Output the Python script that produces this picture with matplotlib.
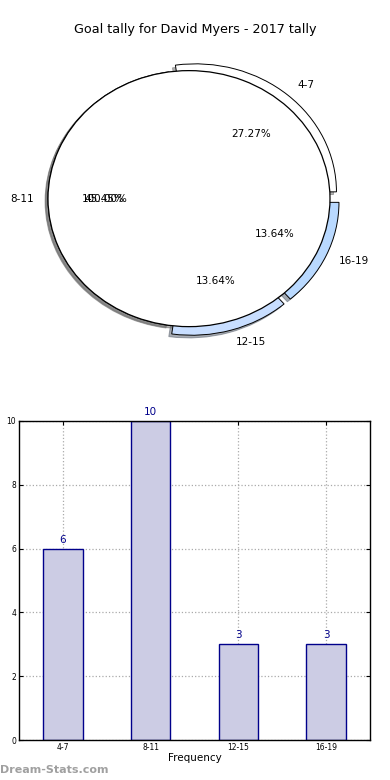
import matplotlib.pyplot as plt
import numpy as np

# ============================================================
# Data
# ============================================================
categories = ['4-7', '8-11', '12-15', '16-19']
goals = [6, 10, 3, 3]

pie_colors = ['white', 'white', '#c8deff', '#b9d9ff']
explode = [0.07, 0.0, 0.07, 0.07]

bar_face = '#ccccE4'
bar_edge = '#00008b'

# ============================================================
# Figure
# ============================================================
fig = plt.figure(figsize=(3.9, 7.8), dpi=100)

fig.text(0.5, 1 - 30 / 780, 'Goal tally for David Myers - 2017 tally',
         ha='center', va='center', fontsize=9.2)

# ---------------- pie ----------------
ax1 = fig.add_axes([0.0146, 0.532, 0.94, 0.4267])
ax1.pie(goals, labels=categories, colors=pie_colors, explode=explode,
        autopct='%.2f%%', startangle=0,
        shadow={'ox': -0.015, 'oy': -0.015, 'shade': 0.6},
        wedgeprops={'edgecolor': 'black', 'linewidth': 0.7},
        textprops={'fontsize': 7.5})
# the whole tally drawn again on top as one white slice
ax1.pie([sum(goals)], colors=['white'], autopct='%.2f%%', startangle=0,
        shadow={'ox': -0.012, 'oy': -0.012, 'shade': 0.6},
        wedgeprops={'edgecolor': 'black', 'linewidth': 0.9},
        textprops={'fontsize': 7.5})
ax1.set_aspect('auto')
ax1.set_xlim(-1.3, 1.3)
ax1.set_ylim(-1.3, 1.3)

# ---------------- bars ----------------
ax2 = fig.add_axes([19 / 390, 40 / 780, 351 / 390, 319 / 780])
x = np.arange(len(categories))
ax2.bar(x, goals, 0.45, color=bar_face, edgecolor=bar_edge, linewidth=1,
        zorder=2)
for xi, g in zip(x, goals):
    ax2.text(xi, g + 0.12, str(g), ha='center', va='bottom',
             color=bar_edge, fontsize=7.5)

ax2.set_xlim(-0.5, 3.5)
ax2.set_ylim(0, 10)
ax2.set_xticks(x)
ax2.set_xticklabels(categories)
ax2.set_yticks([0, 2, 4, 6, 8, 10])
ax2.tick_params(direction='in', top=True, right=True, labelsize=5.5,
                length=3, pad=2)
ax2.grid(True, linestyle=':', color='#aaaaaa', linewidth=0.9, zorder=0)
ax2.set_axisbelow(True)
ax2.set_xlabel('Frequency', fontsize=7.5, labelpad=1)
ax2.set_ylabel('Goal Intervals', fontsize=7.5, labelpad=4)
for s in ax2.spines.values():
    s.set_linewidth(1)

fig.text(0.0, 10 / 780, 'Dream-Stats.com', ha='left', va='center',
         fontsize=8, fontweight='bold', color='#a0a0a0')

fig.savefig('out.png', dpi=100)
